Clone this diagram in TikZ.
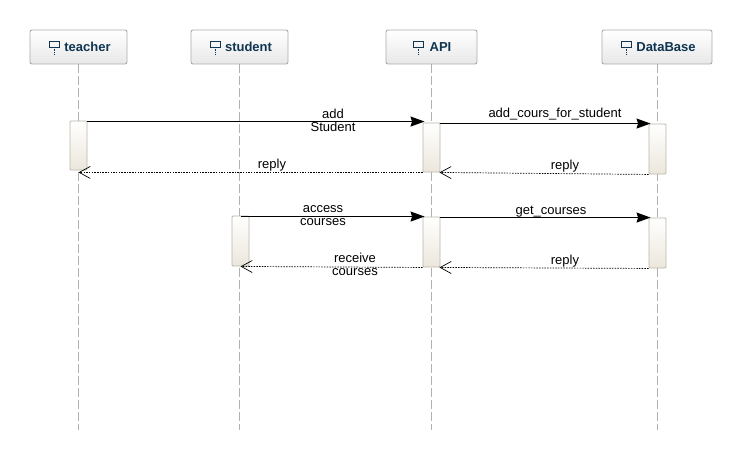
\documentclass[tikz,border=0pt]{standalone}
\usepackage{fontspec}
\setmainfont{Liberation Sans}
\usepackage{tikz}
\definecolor{headtext}{HTML}{0F3550}
\definecolor{headline}{HTML}{A8ACAE}
\definecolor{actline}{HTML}{B8B6A8}
\definecolor{actlow}{HTML}{ECE7DC}
\definecolor{lifegray}{HTML}{B0B0B0}
\tikzset{
	headbox/.style={draw=headline,line width=0.9pt,rounded corners=2pt,top color=white,bottom color=black!9,minimum height=34pt,inner sep=0pt,font=\bfseries\fontsize{13}{13}\selectfont,text=headtext},
	actbox/.style={draw=actline,line width=0.9pt,rounded corners=1pt,top color=white,bottom color=actlow,minimum width=17pt,inner sep=0pt},
	lifeline/.style={draw=lifegray,dash pattern=on 9pt off 3pt,line width=0.8pt},
	callarrow/.style={-{Stealth[length=14pt,width=10pt,inset=1.5pt]},line width=0.9pt},
	replyarrow/.style={-{Straight Barb[length=11pt,width=12pt]},dash pattern=on 1.5pt off 1.2pt,line width=0.7pt},
	msg/.style={font=\fontsize{13}{13}\selectfont,align=center,inner sep=0pt},
}
\usetikzlibrary{arrows.meta}
\begin{document}
\begin{tikzpicture}[x=1pt,y=-1pt]
	\useasboundingbox (0,0) rectangle (741,460);
	% heads and life lines
	\foreach \name/\label/\xa/\xb/\life/\ix in {teacher/teacher/30/127/78/49,student/student/191/288/239/210,api/API/386/477/431/413,database/DataBase/602/712/657/621}{
		\coordinate (\name end) at (\life,430);
		\coordinate (\name top) at (\life,64);
		\draw[lifeline] (\name top) -- (\name end);
		\node[headbox,minimum width=\xb pt-\xa pt] (\name) at ({(\xa+\xb)/2},47) {\hspace*{18pt}\label};
		\draw[headtext,line width=0.7pt] (\ix,41) rectangle (\ix+10,47);
		\draw[headtext,line width=0.7pt,densely dotted] (\ix+5,47) -- (\ix+5,54);
	}
	% activations
	\node[actbox,minimum height=49pt] (teacherA) at (78.5,145.5) {};
	\node[actbox,minimum height=49pt] (apiA) at (431.5,147.5) {};
	\node[actbox,minimum height=50pt] (databaseA) at (657.5,149) {};
	\node[actbox,minimum height=50pt] (studentB) at (240.5,241) {};
	\node[actbox,minimum height=50pt] (apiB) at (431.5,242) {};
	\node[actbox,minimum height=50pt] (databaseB) at (657.5,243) {};
	% first block
	\draw[callarrow] ([yshift=-1pt]teacherA.north east) -- ([yshift=1pt,xshift=2pt]apiA.north west);
	\draw[callarrow] ([yshift=-1pt]apiA.north east) -- ([xshift=2pt]databaseA.north west);
	\draw[replyarrow] (databaseA.south west) -- ([xshift=-1pt]apiA.south east);
	\draw[replyarrow] (apiA.south west) -- ([yshift=-2pt]teacherA.south);
	\node[msg] at (333,120) {add\\Student};
	\node[msg] at (555,114) {add\_cours\_for\_student};
	\node[msg] at (272,165) {reply};
	\node[msg] at (565,166) {reply};
	% second block
	\draw[callarrow] ([yshift=-1pt,xshift=-8pt]studentB.north east) -- ([xshift=2pt]apiB.north west);
	\draw[callarrow] ([yshift=-1pt]apiB.north east) -- ([xshift=2pt]databaseB.north west);
	\draw[replyarrow] (databaseB.south west) -- ([xshift=-1pt]apiB.south east);
	\draw[replyarrow] (apiB.south west) -- (studentB.south);
	\node[msg] at (323,216) {access\\courses};
	\node[msg] at (551,212) {get\_courses};
	\node[msg] at (355,264) {receive\\courses};
	\node[msg] at (565,261) {reply};
\end{tikzpicture}
\end{document}
